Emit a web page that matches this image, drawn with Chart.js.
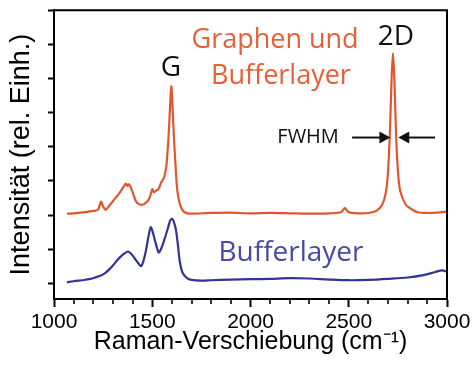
<!DOCTYPE html>
<html lang="de">
<head>
<meta charset="utf-8">
<script src="https://cdn.jsdelivr.net/npm/chart.js"></script>
<style>
  html, body { margin: 0; padding: 0; background: #fff; }
  #wrap { width: 474px; height: 367px; }
</style>
</head>
<body>
<div id="wrap">
  <canvas id="myChart" width="474" height="367"></canvas>
</div>
<script>
    // Raman-Verschiebung (cm-1) / Intensität
    const grapheneX = [1066, 1100, 1150, 1200, 1224, 1239, 1250, 1262, 1285, 1310, 1330, 1351, 1366, 1374, 1382, 1397,
        1410, 1422, 1448, 1478, 1492, 1500, 1509, 1520, 1530, 1545, 1560, 1572, 1582, 1590, 1597, 1603, 1610, 1618,
        1626, 1635, 1645, 1660, 1680, 1700, 1800, 1900, 2000, 2100, 2200, 2300, 2400, 2460, 2480, 2500, 2550, 2600,
        2640, 2670, 2690, 2700, 2710, 2718, 2725, 2732, 2740, 2750, 2762, 2790, 2812, 2850, 2900, 2950, 3000];
    const grapheneY = [2.04, 2.05, 2.08, 2.12, 2.15, 2.39, 2.25, 2.15, 2.3, 2.48, 2.62, 2.8, 2.92, 2.85, 2.9, 2.72,
        2.5, 2.36, 2.3, 2.42, 2.6, 2.76, 2.66, 2.72, 2.74, 2.95, 3.1, 3.45, 4.2, 5.1, 5.77, 5.2, 4.3, 3.5,
        2.8, 2.45, 2.25, 2.1, 2.05, 2.04, 2.06, 2.07, 2.05, 2.06, 2.05, 2.04, 2.05, 2.08, 2.2, 2.08, 2.05, 2.06,
        2.12, 2.3, 2.7, 3.3, 4.5, 6.0, 6.74, 6.0, 4.5, 3.3, 2.7, 2.3, 2.2, 2.08, 2.06, 2.07, 2.1];

    const bufferX = [1066, 1100, 1142, 1180, 1209, 1235, 1260, 1280, 1300, 1325, 1346, 1365, 1377, 1395, 1412, 1430,
        1443, 1455, 1468, 1480, 1492, 1500, 1514, 1525, 1534, 1550, 1565, 1580, 1592, 1600, 1610, 1621, 1631, 1641,
        1655, 1677, 1700, 1750, 1800, 1900, 2000, 2100, 2200, 2300, 2400, 2500, 2600, 2700, 2800, 2880, 2940, 2975, 3000];
    const bufferY = [0.03, 0.06, 0.09, 0.12, 0.17, 0.22, 0.3, 0.4, 0.52, 0.7, 0.82, 0.9, 0.93, 0.85, 0.72, 0.58,
        0.5, 0.65, 0.96, 1.35, 1.64, 1.55, 1.25, 1.02, 0.9, 1.08, 1.34, 1.62, 1.85, 1.89, 1.8, 1.55, 1.1, 0.61,
        0.3, 0.15, 0.1, 0.08, 0.09, 0.11, 0.12, 0.13, 0.15, 0.14, 0.11, 0.09, 0.1, 0.13, 0.17, 0.24, 0.33, 0.38, 0.34];

    const xMajorTicks = [1000, 1500, 2000, 2500, 3000];
    const xMinorTicks = [1100, 1200, 1300, 1400, 1600, 1700, 1800, 1900, 2100, 2200, 2300, 2400,
        2600, 2700, 2800, 2900];
    const yTicks = [0, 1, 2, 3, 4, 5, 6, 7, 8];

    const RED = 'rgb(226, 86, 46)';
    const BLUE = 'rgb(52, 52, 150)';

    const toPts = (xs, ys) => xs.map((x, i) => ({x: x, y: ys[i]}));

    // Rahmen oben/rechts, kleine Striche, Beschriftungen im Diagramm
    const decor = {
        id: 'decor',
        beforeDraw(chart) {
            const c = chart.ctx;
            c.save();
            c.fillStyle = '#fff';
            c.fillRect(0, 0, chart.width, chart.height);
            c.restore();
        },
        afterDraw(chart) {
            const c = chart.ctx;
            const a = chart.chartArea;
            const sx = chart.scales.x, sy = chart.scales.y;
            c.save();
            c.strokeStyle = '#000';
            c.lineWidth = 2;
            c.beginPath();
            c.moveTo(a.left, a.top);
            c.lineTo(a.right, a.top);
            c.lineTo(a.right, a.bottom);
            c.stroke();

            c.lineWidth = 1.6;
            xMinorTicks.forEach(v => {
                const px = Math.round(sx.getPixelForValue(v));
                c.beginPath();
                c.moveTo(px, a.bottom);
                c.lineTo(px, a.bottom + 5);
                c.stroke();
            });

            const txt = (s, wn, val, font, color) => {
                c.font = font;
                c.fillStyle = color;
                c.textAlign = 'center';
                c.textBaseline = 'alphabetic';
                c.fillText(s, sx.getPixelForValue(wn), sy.getPixelForValue(val));
            };
            txt('G', 1595, 6.07, '28px "Open Sans"', '#111');
            txt('2D', 2740, 6.97, '28px "Open Sans"', '#111');
            txt('Graphen und', 2125, 6.9, '27px "Open Sans"', 'rgb(232, 95, 55)');
            txt('Bufferlayer', 2155, 5.83, '27px "Open Sans"', 'rgb(232, 95, 55)');
            txt('Bufferlayer', 2206, 0.65, '28px "Open Sans"', 'rgb(72, 72, 165)');
            txt('FWHM', 2293, 4.1, '20px "Open Sans"', '#111');

            const arrow = (from, tip, val) => {
                const y = sy.getPixelForValue(val);
                const x0 = sx.getPixelForValue(from), x1 = sx.getPixelForValue(tip);
                const d = x1 > x0 ? 1 : -1;
                c.strokeStyle = '#111';
                c.fillStyle = '#111';
                c.lineWidth = 2;
                c.beginPath();
                c.moveTo(x0, y);
                c.lineTo(x1 - d * 8, y);
                c.stroke();
                c.beginPath();
                c.moveTo(x1, y);
                c.lineTo(x1 - d * 11, y - 6);
                c.lineTo(x1 - d * 11, y + 6);
                c.closePath();
                c.fill();
            };
            arrow(2517, 2712, 4.27);
            arrow(2939, 2752, 4.27);
            c.restore();
        }
    };

    const ctx = document.getElementById('myChart');
    const myChart = new Chart(ctx, {
        type: 'line',
        data: {
            datasets: [
                {
                    label: 'Graphen und Bufferlayer',
                    data: toPts(grapheneX, grapheneY),
                    borderColor: RED,
                    borderWidth: 2.2,
                    pointRadius: 0,
                    tension: 0.25
                },
                {
                    label: 'Bufferlayer',
                    data: toPts(bufferX, bufferY),
                    borderColor: BLUE,
                    borderWidth: 2.2,
                    pointRadius: 0,
                    tension: 0.3
                }
            ]
        },
        options: {
            responsive: false,
            animation: false,
            layout: { padding: { left: 0, right: 27, top: 10, bottom: 0 } },
            plugins: { legend: { display: false }, tooltip: { enabled: false } },
            scales: {
                x: {
                    type: 'linear',
                    min: 1000,
                    max: 3000,
                    afterBuildTicks: s => { s.ticks = xMajorTicks.map(v => ({value: v})); },
                    afterFit: s => { s.height = 68; },
                    border: { color: '#000', width: 2 },
                    grid: { drawOnChartArea: false, tickLength: 8, tickColor: '#000', tickWidth: 2 },
                    ticks: {
                        color: '#000',
                        padding: 3,
                        maxRotation: 0,
                        autoSkip: false,
                        callback: v => String(v),
                        font: { family: '"Liberation Sans", Arial', size: 21 }
                    },
                    title: {
                        display: true,
                        text: 'Raman-Verschiebung (cm⁻¹)',
                        color: '#000',
                        padding: { top: 0, bottom: 10 },
                        font: { family: '"Liberation Sans", Arial', size: 25 }
                    }
                },
                y: {
                    min: -0.46,
                    max: 8,
                    afterBuildTicks: s => { s.ticks = yTicks.map(v => ({value: v})); },
                    afterFit: s => { s.width = 54; },
                    border: { color: '#000', width: 2 },
                    grid: { drawOnChartArea: false, tickLength: 6, tickColor: '#000', tickWidth: 2 },
                    ticks: { display: true, callback: () => '' },
                    title: {
                        display: true,
                        text: 'Intensität (rel. Einh.)',
                        color: '#000',
                        padding: { top: 5, bottom: 0 },
                        font: { family: '"Liberation Sans", Arial', size: 27 }
                    }
                }
            }
        },
        plugins: [decor]
    });
</script>
</body>
</html>
